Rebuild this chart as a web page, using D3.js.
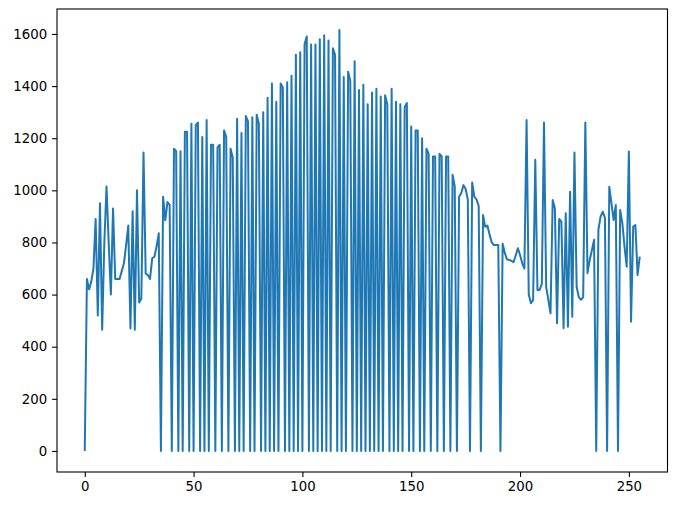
<!DOCTYPE html>
<html><head><meta charset="utf-8">
<script src="https://cdn.jsdelivr.net/npm/d3@7"></script>
<style>body{margin:0;background:#fff}svg{display:block}</style>
</head><body>
<script>
const counts = [
0,660,620,650,700,890,520,950,465,800,1015,800,600,930,660,660,660,690,720,790,
865,470,920,465,1000,570,585,1145,680,675,660,740,745,785,835,0,975,885,955,945,
0,1160,1150,0,1150,0,1225,1225,0,1255,0,1250,1260,0,1205,0,1270,0,1175,1175,
0,1165,1175,0,1230,1205,0,1160,1125,0,1275,0,1220,0,1285,1265,0,1280,0,1290,
1255,0,1300,0,1355,0,1410,0,1340,0,1410,1395,0,1415,0,1440,0,1520,0,1530,
0,1560,1590,0,1560,0,1560,0,1580,0,1595,0,1575,0,1545,1520,0,1615,0,1435,
0,1455,1420,0,1495,0,1385,0,1405,0,1330,0,1375,0,1390,0,1360,0,1365,1330,
0,1390,0,1340,0,1330,0,1320,1335,0,1245,0,1230,1230,0,1200,0,1160,1140,0,
1130,1130,0,1140,1130,0,1130,1130,0,1060,1015,0,975,990,1020,1005,965,0,1030,975,
965,940,0,905,860,865,830,800,790,790,790,0,795,760,735,733,730,724,750,778,
752,720,700,1270,600,567,579,1117,618,618,640,1260,630,580,528,963,931,490,890,880,
471,912,477,995,515,1145,630,590,580,590,1260,682,733,770,810,0,848,899,918,894,
0,1014,950,886,944,0,925,874,784,707,1149,496,861,867,675,746
];
const bins = d3.range(counts.length);
const xTicks = [0,50,100,150,200,250];
const yTicks = [0,200,400,600,800,1000,1200,1400,1600];

const W = 685, H = 508;
const L = 57, R = 667.5, T = 9, B = 472;
const svg = d3.select("body").append("svg").attr("width", W).attr("height", H);

const xmin = 0, xmax = counts.length - 1;
const ymax = d3.max(counts), ymin = d3.min(counts);
const xm = (xmax - xmin) * 0.05, ym = (ymax - ymin) * 0.05;
const x = d3.scaleLinear().domain([xmin - xm, xmax + xm]).range([L, R]);
const y = d3.scaleLinear().domain([ymin - ym, ymax + ym]).range([B, T]);

const line = d3.line().x((d, i) => x(bins[i])).y(d => y(d));
svg.append("path").datum(counts)
  .attr("d", line).attr("fill", "none")
  .attr("stroke", "#1f77b4").attr("stroke-width", 2)
  .attr("stroke-linejoin", "round").attr("stroke-linecap", "butt");

const font = "'DejaVu Sans', sans-serif";
const fmt = d3.format("d");
const xa = svg.append("g").attr("transform", `translate(0,${B})`)
  .call(d3.axisBottom(x).tickValues(xTicks).tickFormat(fmt).tickSize(4.9).tickPadding(4.9).tickSizeOuter(0));
const ya = svg.append("g").attr("transform", `translate(${L},0)`)
  .call(d3.axisLeft(y).tickValues(yTicks).tickFormat(fmt).tickSize(4.9).tickPadding(4.9).tickSizeOuter(0));
[xa, ya].forEach(a => {
  a.select(".domain").remove();
  a.selectAll("line").attr("stroke", "#000").attr("stroke-width", 1.1);
  a.selectAll("text").attr("fill", "#000").style("font-family", font).style("font-size", "13.3px");
});
svg.append("rect").attr("x", L).attr("y", T).attr("width", R - L).attr("height", B - T)
  .attr("fill", "none").attr("stroke", "#000").attr("stroke-width", 1.1);
</script>
</body></html>
